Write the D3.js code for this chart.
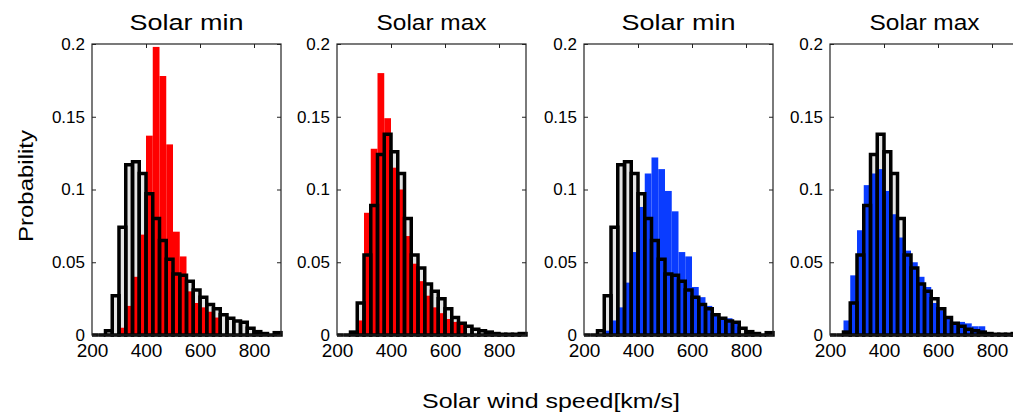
<!DOCTYPE html>
<html>
<head>
<meta charset="utf-8">
<script src="https://cdn.jsdelivr.net/npm/d3@7"></script>
<style>
  body { margin: 0; background: #fff; }
  text { font-family: "Liberation Sans", Arial, sans-serif; fill: #000; }
</style>
</head>
<body>
<div id="chart"></div>
<script>
// histogram bins: 25 km/s wide, 200..900
var binStarts = d3.range(200, 900, 25);
var binWidth = 25;

var minBlack = [0, 0, 0.003, 0.027, 0.074, 0.117, 0.119, 0.111, 0.097, 0.080, 0.065, 0.052, 0.042, 0.041,
  0.037, 0.031, 0.026, 0.021, 0.018, 0.014, 0.0115, 0.0096, 0.0087, 0.0046, 0.0023, 0.001, 0, 0.0016];
var maxBlack = [0, 0, 0.002, 0.022, 0.055, 0.089, 0.124, 0.138, 0.126, 0.111, 0.080, 0.055, 0.046, 0.035,
  0.030, 0.025, 0.018, 0.012, 0.008, 0.006, 0.004, 0.003, 0.002, 0.001, 0.0005, 0.0005, 0.0005, 0.001];
var minRed = [0, 0, 0, 0, 0.005, 0.02, 0.04, 0.069, 0.137, 0.198, 0.178, 0.131, 0.071, 0.054,
  0.03, 0.022, 0.019, 0.016, 0.012, 0, 0, 0, 0, 0, 0, 0, 0, 0];
var maxRed = [0, 0, 0, 0.01, 0.084, 0.128, 0.180, 0.149, 0.115, 0.100, 0.068, 0.049, 0.037, 0.027,
  0.019, 0.015, 0.011, 0.009, 0.007, 0, 0, 0, 0, 0, 0, 0, 0, 0];
var minBlue = [0, 0, 0, 0.003, 0.01, 0.019, 0.036, 0.057, 0.088, 0.111, 0.122, 0.114, 0.099, 0.085,
  0.057, 0.054, 0.033, 0.026, 0.020, 0.015, 0.012, 0.0115, 0.008, 0, 0, 0, 0, 0];
var maxBlue = [0, 0, 0.01, 0.041, 0.072, 0.103, 0.111, 0.114, 0.099, 0.083, 0.067, 0.058, 0.050, 0.040,
  0.033, 0.022, 0.017, 0.012, 0.009, 0.009, 0.008, 0.006, 0.006, 0.002, 0, 0, 0, 0];

var titles = ['Solar min', 'Solar max', 'Solar min', 'Solar max'];
var xTicks = [200, 400, 600, 800];
var yTicks = [0, 0.05, 0.1, 0.15, 0.2];

var panels = [
  {title: titles[0], black: minBlack, fill: minRed, color: '#ff0000', left: 92},
  {title: titles[1], black: maxBlack, fill: maxRed, color: '#ff0000', left: 337},
  {title: titles[2], black: minBlack, fill: minBlue, color: '#0a3cff', left: 584},
  {title: titles[3], black: maxBlack, fill: maxBlue, color: '#0a3cff', left: 830}
];

var width = 1013, height = 416;
var plotTop = 44, plotBottom = 335, pw = 189;

var svg = d3.select('#chart').append('svg')
  .attr('width', width).attr('height', height);

var y = d3.scaleLinear().domain([0, 0.2]).range([plotBottom, plotTop]);

function barPath(x, v) {
  return function(d, i) {
    var x0 = x(binStarts[i]), x1 = x(binStarts[i] + binWidth);
    return 'M' + x0 + ',' + y(0) + 'V' + y(v[i]) + 'H' + x1 + 'V' + y(0) + 'Z';
  };
}

panels.forEach(function(p) {
  var x = d3.scaleLinear().domain([200, 900]).range([p.left, p.left + pw]);
  var g = svg.append('g');

  // light interior of the outlined bars
  g.append('g').selectAll('path')
    .data(p.black)
    .enter().append('path')
    .attr('d', barPath(x, p.black))
    .attr('fill', '#e4e4e4');

  // coloured histogram
  g.append('g').selectAll('rect')
    .data(binStarts.filter(function(b, i) { return p.fill[i] > 0; }))
    .enter().append('rect')
    .attr('x', function(b) { return x(b); })
    .attr('width', x(200 + binWidth) - x(200))
    .attr('y', function(b) { return y(p.fill[binStarts.indexOf(b)]); })
    .attr('height', function(b) { return y(0) - y(p.fill[binStarts.indexOf(b)]); })
    .attr('fill', p.color);

  // black outlined histogram on top
  g.append('g').selectAll('path')
    .data(p.black)
    .enter().append('path')
    .attr('d', barPath(x, p.black))
    .attr('fill', 'none')
    .attr('stroke', '#000')
    .attr('stroke-width', 3.5);

  // axes box
  g.append('rect')
    .attr('x', p.left).attr('y', plotTop)
    .attr('width', pw).attr('height', plotBottom - plotTop)
    .attr('fill', 'none').attr('stroke', '#222').attr('stroke-width', 1.2);

  var yl = d3.axisLeft(y).tickValues(yTicks).tickSize(-4).tickPadding(7)
    .tickFormat(function(d) { return d === 0 ? '0' : String(d); });
  var ya = g.append('g').attr('transform', 'translate(' + p.left + ',0)').call(yl);
  ya.select('.domain').remove();
  ya.selectAll('line').attr('stroke', '#222');
  ya.selectAll('text').style('font-size', '17px').attr('font-family', 'Liberation Sans, Arial, sans-serif');

  var yr = d3.axisRight(y).tickValues(yTicks).tickSize(-4).tickFormat('');
  var yra = g.append('g').attr('transform', 'translate(' + (p.left + pw) + ',0)').call(yr);
  yra.select('.domain').remove();
  yra.selectAll('line').attr('stroke', '#222');

  var xt = d3.axisTop(x).tickValues([400, 600, 800]).tickSize(-4).tickFormat('');
  var xta = g.append('g').attr('transform', 'translate(0,' + plotTop + ')').call(xt);
  xta.select('.domain').remove();
  xta.selectAll('line').attr('stroke', '#222');

  var xb = d3.axisBottom(x).tickValues(xTicks).tickSize(0).tickPadding(9);
  var xba = g.append('g').attr('transform', 'translate(0,' + plotBottom + ')').call(xb);
  xba.select('.domain').remove();
  xba.selectAll('text').style('font-size', '19px').attr('font-family', 'Liberation Sans, Arial, sans-serif');

  g.append('text')
    .attr('x', p.left + pw / 2)
    .attr('y', 30)
    .attr('text-anchor', 'middle')
    .attr('textLength', p.title === 'Solar min' ? 114 : 110)
    .attr('lengthAdjust', 'spacingAndGlyphs')
    .style('font-size', '22px')
    .text(p.title);
});

svg.append('text')
  .attr('transform', 'translate(33,186) rotate(-90)')
  .attr('text-anchor', 'middle')
  .attr('textLength', 112)
  .attr('lengthAdjust', 'spacingAndGlyphs')
  .style('font-size', '21px')
  .text('Probability');

svg.append('text')
  .attr('x', 551)
  .attr('y', 408)
  .attr('text-anchor', 'middle')
  .attr('textLength', 258)
  .attr('lengthAdjust', 'spacingAndGlyphs')
  .style('font-size', '21px')
  .text('Solar wind speed[km/s]');
</script>
</body>
</html>
